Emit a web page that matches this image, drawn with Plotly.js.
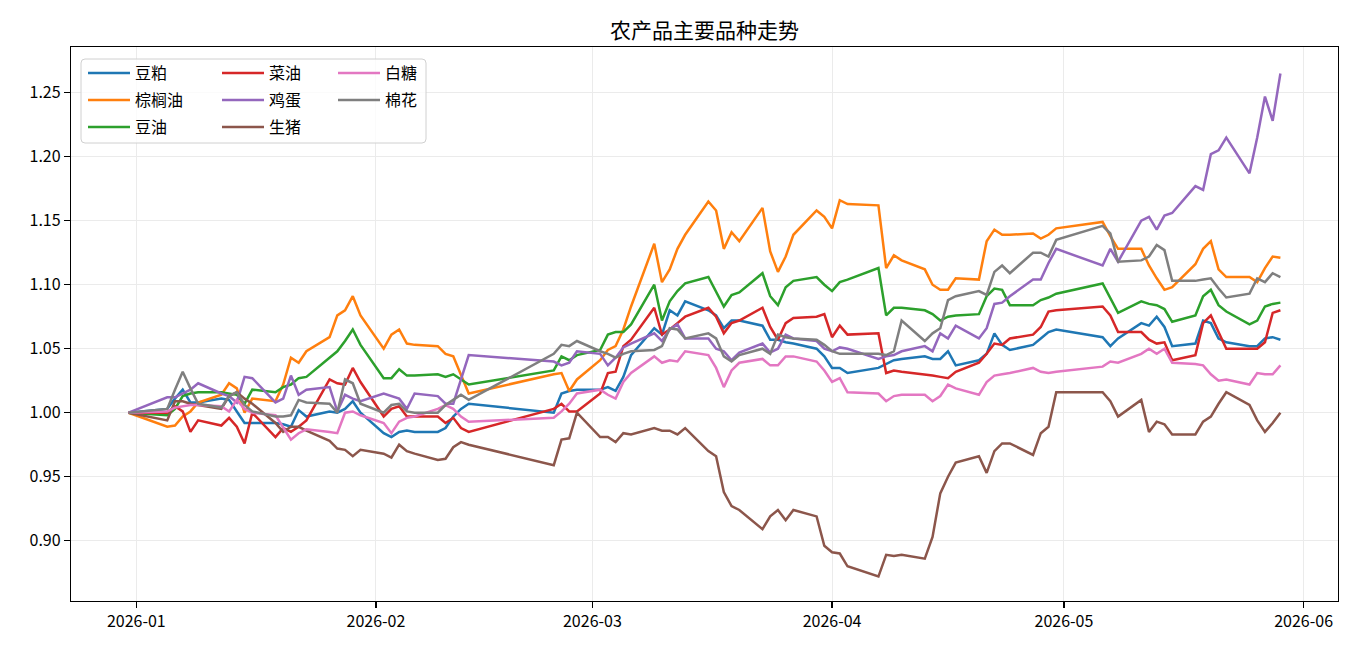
<!DOCTYPE html>
<html><head><meta charset="utf-8">
<script src="https://cdn.plot.ly/plotly-3.0.1.min.js"></script>
<style>html,body{margin:0;padding:0;background:#fff;}#chart{width:1368px;height:657px;}</style>
</head><body><div id="chart"></div>
<script>
const dates = ['2025-12-31',
'2026-01-05','2026-01-06','2026-01-07','2026-01-08','2026-01-09',
'2026-01-12','2026-01-13','2026-01-14','2026-01-15','2026-01-16',
'2026-01-19','2026-01-20','2026-01-21','2026-01-22','2026-01-23',
'2026-01-26','2026-01-27','2026-01-28','2026-01-29','2026-01-30',
'2026-02-02','2026-02-03','2026-02-04','2026-02-05','2026-02-06',
'2026-02-09','2026-02-10','2026-02-11','2026-02-12','2026-02-13',
'2026-02-24','2026-02-25','2026-02-26','2026-02-27',
'2026-03-02','2026-03-03','2026-03-04','2026-03-05','2026-03-06',
'2026-03-09','2026-03-10','2026-03-11','2026-03-12','2026-03-13',
'2026-03-16','2026-03-17','2026-03-18','2026-03-19','2026-03-20',
'2026-03-23','2026-03-24','2026-03-25','2026-03-26','2026-03-27',
'2026-03-30','2026-03-31','2026-04-01','2026-04-02','2026-04-03',
'2026-04-07','2026-04-08','2026-04-09','2026-04-10',
'2026-04-13','2026-04-14','2026-04-15','2026-04-16','2026-04-17',
'2026-04-20','2026-04-21','2026-04-22','2026-04-23','2026-04-24',
'2026-04-27','2026-04-28','2026-04-29','2026-04-30',
'2026-05-06','2026-05-07','2026-05-08',
'2026-05-11','2026-05-12','2026-05-13','2026-05-14','2026-05-15',
'2026-05-18','2026-05-19','2026-05-20','2026-05-21','2026-05-22',
'2026-05-25','2026-05-26','2026-05-27','2026-05-28','2026-05-29'];

const doupo = [1.000,
1.003,1.011,1.018,1.008,1.008,
1.011,1.010,1.001,0.992,0.992,
0.992,0.991,0.989,1.002,0.997,
1.001,1.000,1.003,1.009,1.000,
0.984,0.981,0.985,0.986,0.985,
0.985,0.988,0.997,1.003,1.007,
1.000,1.015,1.017,1.018,
1.018,1.020,1.017,1.028,1.045,
1.066,1.061,1.080,1.076,1.087,
1.080,1.076,1.066,1.072,1.072,
1.068,1.057,1.057,1.055,1.054,
1.050,1.044,1.035,1.035,1.031,
1.035,1.038,1.041,1.042,
1.044,1.042,1.042,1.048,1.037,
1.041,1.046,1.062,1.053,1.049,
1.053,1.058,1.063,1.065,
1.059,1.052,1.058,
1.070,1.068,1.075,1.067,1.052,
1.054,1.072,1.070,1.058,1.055,
1.052,1.052,1.058,1.059,1.057];

const zonglvyou = [1.000,
0.989,0.990,0.997,1.001,1.008,
1.014,1.023,1.019,1.000,1.011,
1.009,1.022,1.043,1.039,1.048,
1.059,1.076,1.080,1.091,1.076,
1.050,1.061,1.065,1.054,1.053,
1.052,1.046,1.044,1.030,1.015,
1.030,1.031,1.017,1.026,
1.041,1.049,1.052,1.065,1.083,
1.132,1.102,1.112,1.128,1.139,
1.165,1.158,1.128,1.141,1.134,
1.160,1.126,1.110,1.122,1.139,
1.158,1.153,1.144,1.166,1.163,
1.162,1.113,1.123,1.119,
1.112,1.100,1.096,1.096,1.105,
1.104,1.134,1.143,1.139,1.139,
1.140,1.136,1.139,1.144,
1.149,1.138,1.128,
1.128,1.115,1.105,1.096,1.098,
1.116,1.128,1.134,1.112,1.106,
1.106,1.102,1.113,1.122,1.121];

const douyou = [1.000,
0.998,1.003,1.013,1.015,1.016,
1.016,1.015,1.014,1.007,1.018,
1.016,1.020,1.022,1.027,1.028,
1.043,1.048,1.056,1.065,1.053,
1.027,1.027,1.034,1.029,1.029,
1.030,1.028,1.030,1.026,1.022,
1.033,1.044,1.041,1.045,
1.049,1.061,1.063,1.063,1.069,
1.100,1.072,1.087,1.095,1.101,
1.106,1.095,1.083,1.092,1.094,
1.109,1.091,1.084,1.098,1.103,
1.106,1.100,1.095,1.102,1.104,
1.113,1.076,1.082,1.082,
1.080,1.077,1.072,1.075,1.076,
1.077,1.091,1.097,1.096,1.084,
1.084,1.088,1.090,1.093,
1.101,1.089,1.078,
1.087,1.085,1.084,1.081,1.071,
1.076,1.091,1.096,1.084,1.079,
1.069,1.072,1.083,1.085,1.086];

const caiyou = [1.000,
1.000,1.005,1.001,0.985,0.994,
0.990,0.996,0.989,0.976,1.000,
0.981,0.988,0.985,0.989,0.994,
1.026,1.023,1.022,1.035,1.024,
0.997,1.003,1.005,0.997,0.997,
0.997,0.992,0.996,0.988,0.985,
1.003,1.007,1.001,1.001,
1.015,1.031,1.032,1.052,1.057,
1.082,1.061,1.065,1.070,1.075,
1.082,1.075,1.062,1.070,1.072,
1.082,1.067,1.057,1.070,1.074,
1.075,1.077,1.059,1.068,1.061,
1.062,1.031,1.033,1.032,
1.030,1.029,1.028,1.027,1.032,
1.039,1.046,1.054,1.053,1.058,
1.061,1.067,1.079,1.080,
1.083,1.076,1.063,
1.063,1.057,1.054,1.055,1.041,
1.045,1.070,1.076,1.063,1.050,
1.050,1.050,1.055,1.078,1.080];

const jidan = [1.000,
1.012,1.012,1.015,1.018,1.023,
1.015,1.013,1.008,1.028,1.027,
1.008,1.011,1.029,1.014,1.018,
1.020,1.001,1.014,1.011,1.009,
1.015,1.013,1.011,1.003,1.015,
1.013,1.007,1.007,1.026,1.045,
1.040,1.037,1.039,1.048,
1.046,1.037,1.043,1.051,1.054,
1.062,1.056,1.065,1.069,1.058,
1.058,1.050,1.048,1.041,1.047,
1.054,1.047,1.050,1.061,1.058,
1.056,1.050,1.048,1.051,1.050,
1.042,1.044,1.045,1.048,
1.052,1.048,1.062,1.058,1.068,
1.058,1.066,1.085,1.086,1.091,
1.104,1.104,1.117,1.128,
1.115,1.128,1.118,
1.150,1.153,1.143,1.154,1.156,
1.177,1.174,1.202,1.205,1.215,
1.187,1.215,1.247,1.228,1.265];

const shengzhu = [1.000,
0.994,1.009,1.009,1.007,1.006,
1.003,1.013,1.016,1.011,1.007,
0.992,0.985,0.989,0.989,0.986,
0.978,0.972,0.971,0.966,0.971,
0.968,0.965,0.975,0.970,0.968,
0.963,0.964,0.973,0.977,0.975,
0.959,0.979,0.980,1.000,
0.981,0.981,0.977,0.984,0.983,
0.988,0.986,0.986,0.983,0.988,
0.970,0.966,0.938,0.927,0.924,
0.909,0.919,0.924,0.916,0.924,
0.919,0.896,0.891,0.890,0.880,
0.872,0.889,0.888,0.889,
0.886,0.903,0.937,0.950,0.961,
0.966,0.953,0.970,0.976,0.976,
0.967,0.984,0.989,1.016,
1.016,1.009,0.997,
1.010,0.985,0.993,0.991,0.983,
0.983,0.993,0.997,1.007,1.016,
1.006,0.994,0.985,0.992,1.000];

const baitang = [1.000,
1.001,1.004,1.005,1.006,1.006,
1.005,1.001,1.010,1.003,1.000,
0.998,0.989,0.979,0.984,0.987,
0.985,0.984,1.000,1.001,0.998,
0.992,0.984,0.993,0.996,0.997,
1.003,1.006,1.003,0.997,0.993,
0.996,1.001,1.007,1.015,
1.018,1.014,1.011,1.024,1.031,
1.044,1.039,1.041,1.040,1.048,
1.045,1.035,1.020,1.033,1.039,
1.042,1.037,1.037,1.044,1.044,
1.040,1.033,1.024,1.027,1.016,
1.015,1.009,1.013,1.014,
1.014,1.009,1.013,1.022,1.019,
1.014,1.024,1.029,1.030,1.031,
1.035,1.032,1.031,1.032,
1.036,1.040,1.039,
1.046,1.050,1.046,1.050,1.039,
1.038,1.037,1.030,1.025,1.026,
1.022,1.031,1.030,1.030,1.037];

const mianhua = [1.000,
1.003,1.018,1.032,1.019,1.007,
1.004,1.013,1.016,1.006,1.001,
0.997,0.997,0.998,1.010,1.008,
1.007,1.000,1.026,1.023,1.007,
1.000,1.006,1.007,1.001,1.000,
1.000,1.006,1.010,1.014,1.010,
1.046,1.053,1.052,1.056,
1.048,1.046,1.043,1.046,1.048,
1.049,1.052,1.066,1.065,1.058,
1.062,1.058,1.044,1.040,1.045,
1.050,1.046,1.061,1.059,1.058,
1.057,1.053,1.048,1.046,1.046,
1.046,1.045,1.048,1.072,
1.056,1.062,1.066,1.088,1.091,
1.095,1.092,1.110,1.115,1.109,
1.125,1.125,1.122,1.135,
1.146,1.140,1.118,
1.119,1.122,1.131,1.127,1.103,
1.103,1.104,1.105,1.097,1.090,
1.093,1.105,1.102,1.109,1.106];

const names = ['豆粕','棕榈油','豆油','菜油','鸡蛋','生猪','白糖','棉花'];
const series = [doupo, zonglvyou, douyou, caiyou, jidan, shengzhu, baitang, mianhua];
const colors = ['#1f77b4','#ff7f0e','#2ca02c','#d62728','#9467bd','#8c564b','#e377c2','#7f7f7f'];

const FONT = '"Noto Sans CJK SC", "Noto Sans", sans-serif';
const L = 71, R = 1338, T = 47, B = 601, W = 1368, H = 657;
const px2x = p => (p - L) / (R - L);
const px2y = p => (B - p) / (B - T);

const colX = [83, 217, 333];
const rowY = [73, 100, 127];

const traces = [];
const layout = {
  width: W, height: H,
  paper_bgcolor: '#fff', plot_bgcolor: '#fff',
  margin: {l: L, r: W - R, t: T, b: H - B, pad: 0},
  font: {family: FONT, size: 16, color: '#000'},
  title: {text: '农产品主要品种走势', font: {family: FONT, size: 21, color: '#000'},
          x: 0.5, xref: 'paper', xanchor: 'center', y: 1 - 31 / H, yref: 'container', yanchor: 'middle'},
  xaxis: {
    type: 'date',
    range: ['2025-12-23 13:12:00', '2026-06-05 10:48:00'],
    dtick: 'M1', tick0: '2026-01-01', tickformat: '%Y-%m',
    showgrid: true, gridcolor: '#ebebeb', gridwidth: 1,
    showline: true, mirror: true, linecolor: '#000', linewidth: 1.2,
    ticks: 'outside', ticklen: 6, tickwidth: 1.2, tickcolor: '#000',
    tickfont: {family: FONT, size: 16, color: '#000'},
    zeroline: false
  },
  yaxis: {
    range: [0.8529, 1.2857],
    tickvals: [0.90, 0.95, 1.00, 1.05, 1.10, 1.15, 1.20, 1.25],
    tickformat: '.2f',
    showgrid: true, gridcolor: '#ebebeb', gridwidth: 1,
    showline: true, mirror: true, linecolor: '#000', linewidth: 1.2,
    ticks: 'outside', ticklen: 6, tickwidth: 1.2, tickcolor: '#000',
    tickfont: {family: FONT, size: 16, color: '#000'},
    zeroline: false
  },
  showlegend: true,
  shapes: []
};

series.forEach((vals, i) => {
  const key = i === 0 ? 'legend' : 'legend' + (i + 1);
  traces.push({
    type: 'scatter', mode: 'lines', name: names[i],
    x: dates, y: vals,
    line: {color: colors[i], width: 2.5},
    legend: key, hoverinfo: 'skip'
  });
  const c = Math.floor(i / 3), r = i % 3;
  layout[key] = {
    x: px2x(colX[c]), y: px2y(rowY[r]),
    xanchor: 'left', yanchor: 'middle', xref: 'paper', yref: 'paper',
    bgcolor: 'rgba(0,0,0,0)', borderwidth: 0,
    font: {family: FONT, size: 16, color: '#000'},
    itemwidth: 42
  };
});

// legend frame (rounded rectangle)
(function () {
  const x0 = 81, x1 = 426, y0 = 59, y1 = 143, rr = 4;
  const X = p => px2x(p), Y = p => px2y(p);
  const d = `M ${X(x0 + rr)},${Y(y0)} L ${X(x1 - rr)},${Y(y0)} Q ${X(x1)},${Y(y0)} ${X(x1)},${Y(y0 + rr)} ` +
            `L ${X(x1)},${Y(y1 - rr)} Q ${X(x1)},${Y(y1)} ${X(x1 - rr)},${Y(y1)} ` +
            `L ${X(x0 + rr)},${Y(y1)} Q ${X(x0)},${Y(y1)} ${X(x0)},${Y(y1 - rr)} ` +
            `L ${X(x0)},${Y(y0 + rr)} Q ${X(x0)},${Y(y0)} ${X(x0 + rr)},${Y(y0)} Z`;
  layout.shapes.push({type: 'path', xref: 'paper', yref: 'paper', path: d,
    fillcolor: 'rgba(255,255,255,0.8)', line: {color: '#d0d0d0', width: 1}, layer: 'above'});
})();

Plotly.newPlot('chart', traces, layout, {displayModeBar: false, staticPlot: true});
</script>
</body></html>
